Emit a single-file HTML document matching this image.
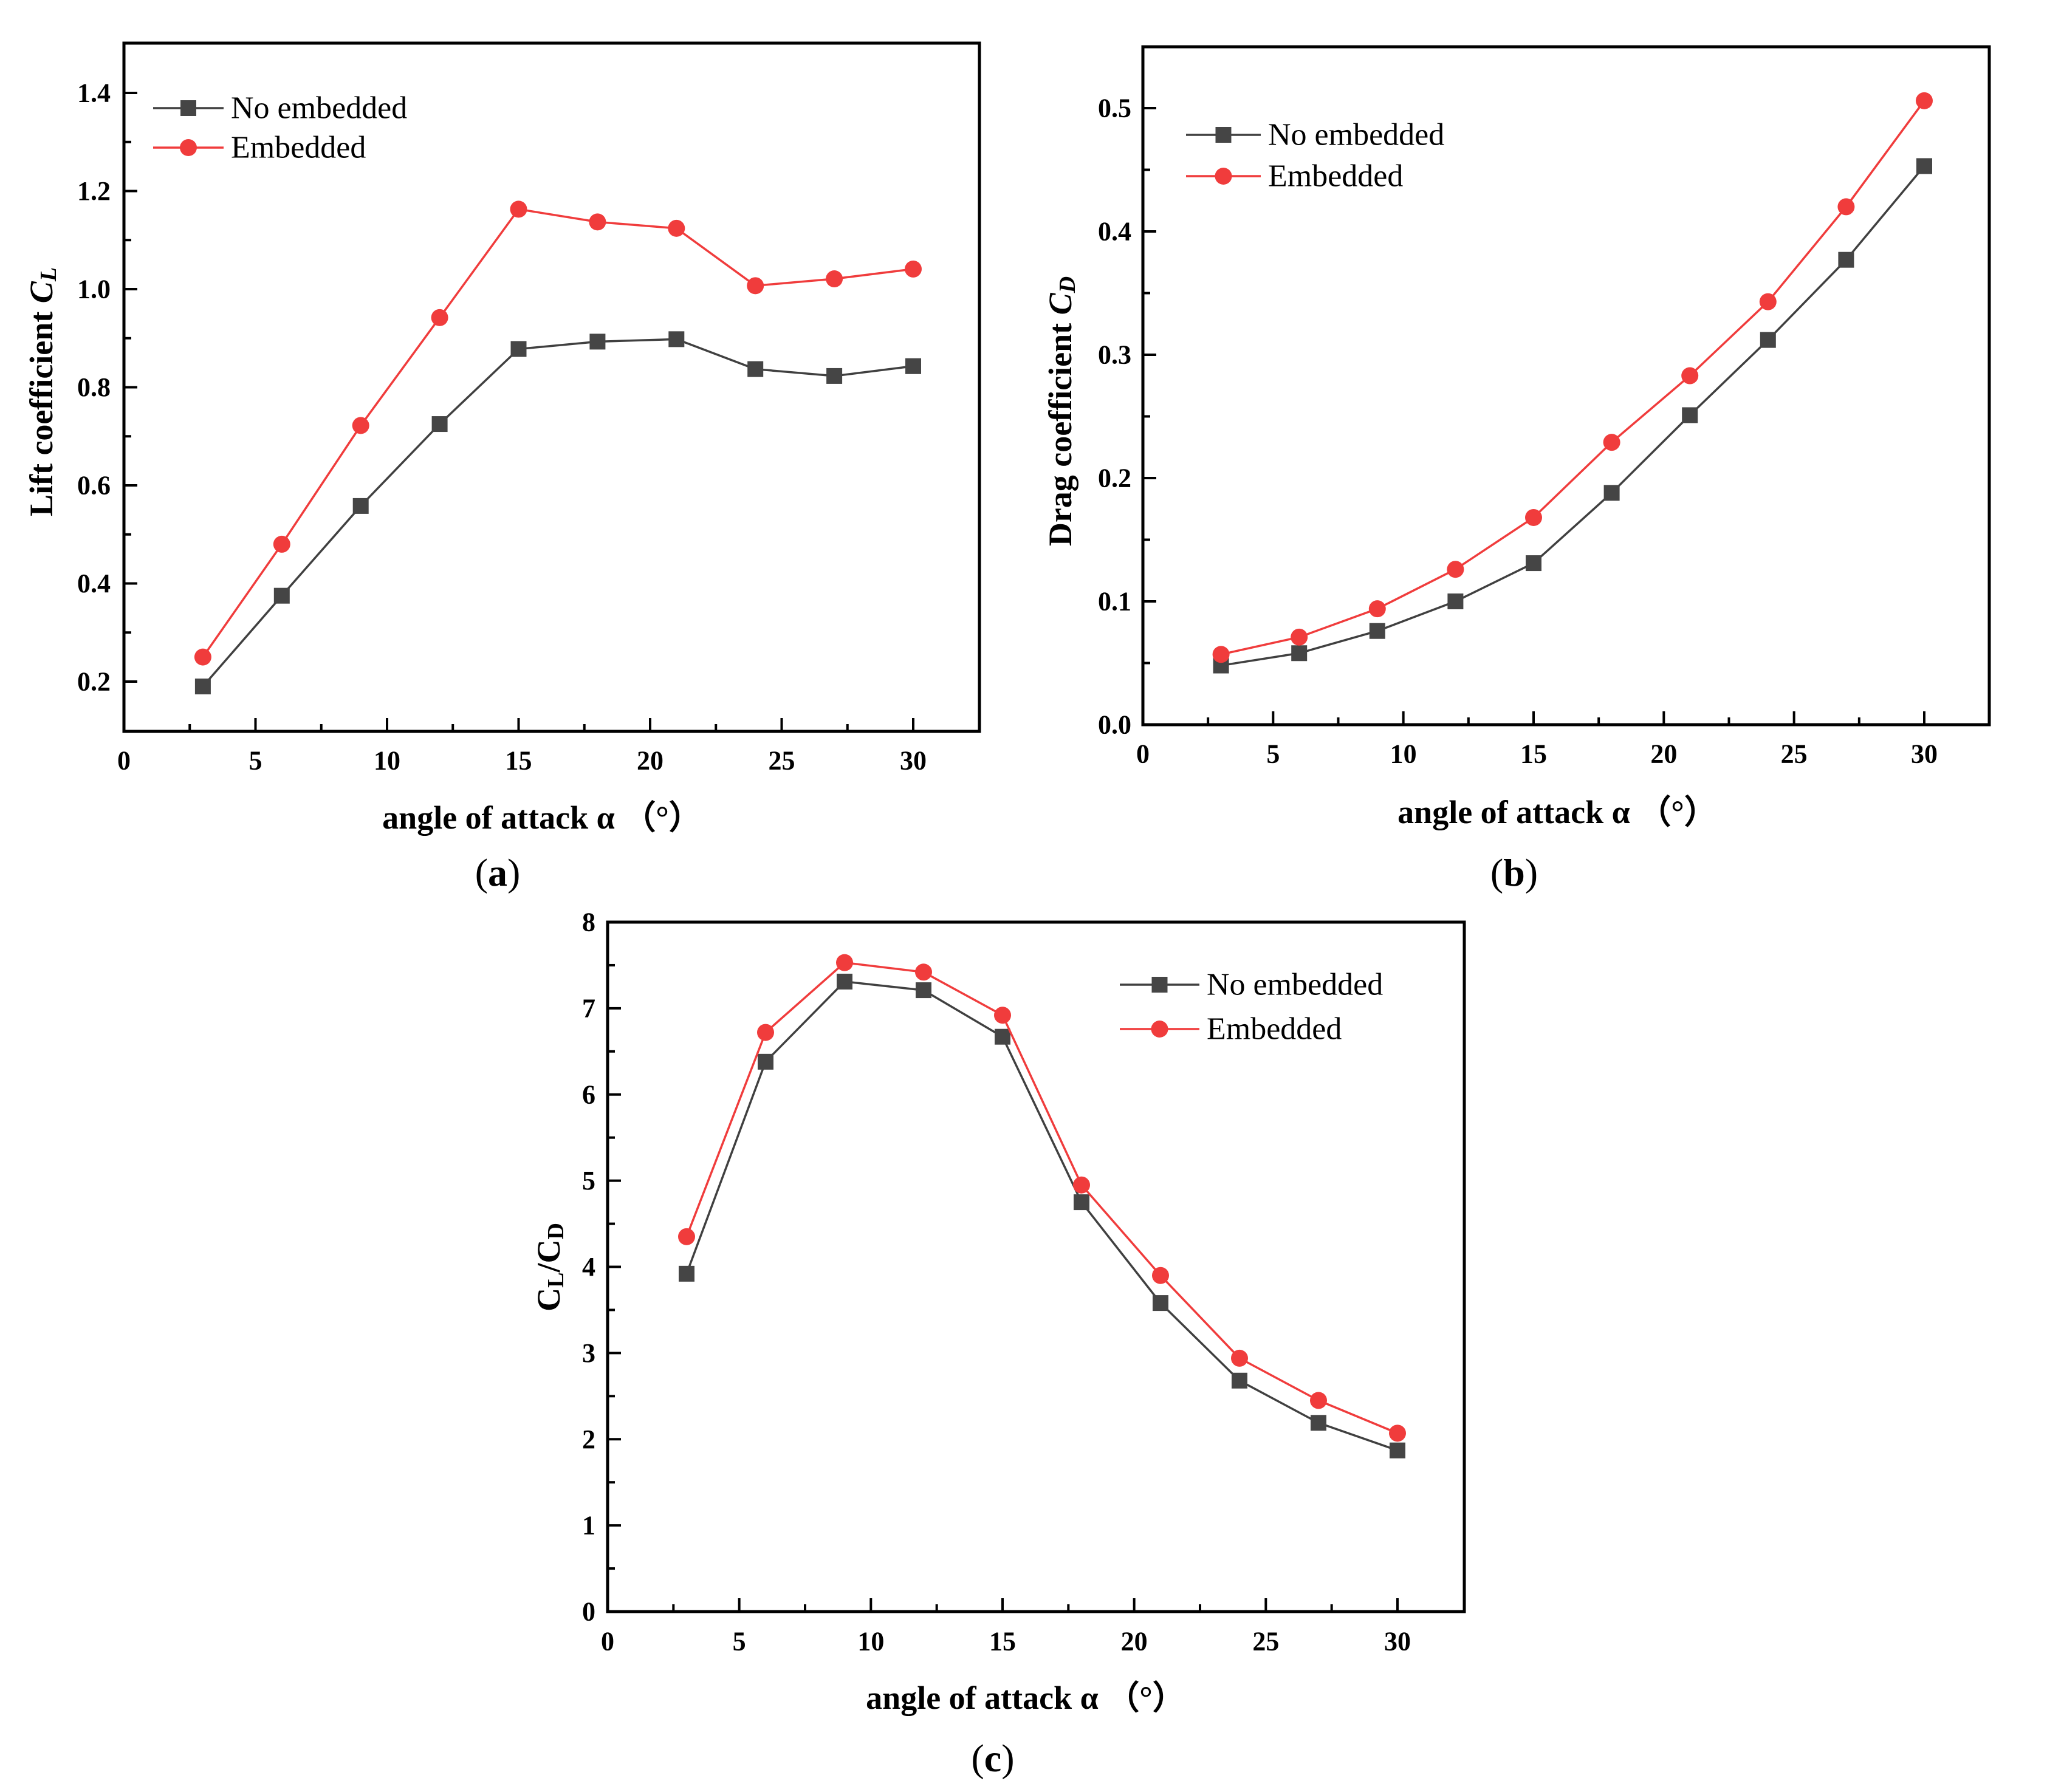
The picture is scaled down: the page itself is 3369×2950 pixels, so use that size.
<!DOCTYPE html>
<html><head><meta charset="utf-8">
<style>
html,body{margin:0;padding:0;background:#fff;}
svg{display:block;}
text{font-family:"Liberation Serif",serif;}
</style></head>
<body>
<svg id="fig" width="3369" height="2950" viewBox="0 0 3369 2950" xmlns="http://www.w3.org/2000/svg">
</svg>
<script>
const angles = [3, 6, 9, 12, 15, 18, 21, 24, 27, 30];
const liftNo = [0.19, 0.375, 0.558, 0.725, 0.878, 0.893, 0.898, 0.837, 0.823, 0.843];
const liftEmb = [0.25, 0.48, 0.722, 0.942, 1.163, 1.137, 1.124, 1.007, 1.021, 1.041];
const dragNo = [0.048, 0.058, 0.076, 0.100, 0.131, 0.188, 0.251, 0.312, 0.377, 0.453];
const dragEmb = [0.057, 0.071, 0.094, 0.126, 0.168, 0.229, 0.283, 0.343, 0.420, 0.506];
const ratioNo = [3.92, 6.38, 7.31, 7.21, 6.67, 4.75, 3.58, 2.68, 2.19, 1.87];
const ratioEmb = [4.35, 6.72, 7.53, 7.42, 6.92, 4.95, 3.90, 2.94, 2.45, 2.07];
const xTicks = [0, 5, 10, 15, 20, 25, 30];
const liftTicks = [0.2, 0.4, 0.6, 0.8, 1.0, 1.2, 1.4];
const liftTickLabels = ["0.2", "0.4", "0.6", "0.8", "1.0", "1.2", "1.4"];
const dragTicks = [0.0, 0.1, 0.2, 0.3, 0.4, 0.5];
const dragTickLabels = ["0.0", "0.1", "0.2", "0.3", "0.4", "0.5"];
const ratioTicks = [0, 1, 2, 3, 4, 5, 6, 7, 8];
const ratioTickLabels = ["0", "1", "2", "3", "4", "5", "6", "7", "8"];
const seriesNames = ["No embedded", "Embedded"];

const NS = "http://www.w3.org/2000/svg";
const svg = document.getElementById("fig");
function mk(tag, attrs, parent) {
  const e = document.createElementNS(NS, tag);
  for (const k in attrs) e.setAttribute(k, attrs[k]);
  (parent || svg).appendChild(e);
  return e;
}

function chart(cfg) {
  const g = mk("g", {});
  
  
  const L = cfg.left, T = cfg.top, R = cfg.right, B = cfg.bottom;
  const sx = v => cfg.x0px + (v - 0) * (cfg.x30px - cfg.x0px) / 30;
  const sy = v => cfg.yApx + (v - cfg.yA) * (cfg.yBpx - cfg.yApx) / (cfg.yB - cfg.yA);
  const xt = mk("g", {}, g);
  
  
  xTicks.forEach((v, i) => {
    const x = sx(v);
    if (v > 0) mk("line", {x1: x, y1: B, x2: x, y2: B - 22, stroke: "#000", "stroke-width": 4}, xt);
    if (i < xTicks.length - 1) {
      const xm = sx(v + 2.5);
      mk("line", {x1: xm, y1: B, x2: xm, y2: B - 12, stroke: "#000", "stroke-width": 4}, xt);
    }
    const t = mk("text", {x: x, y: cfg.xLabelY, "font-size": 44, "font-weight": "bold", "text-anchor": "middle", "dominant-baseline": "central"}, xt);
    t.textContent = String(v);
    
    
  });
  const yt = mk("g", {}, g);
  
  
  cfg.yTicks.forEach((v, i) => {
    const y = sy(v);
    mk("line", {x1: L, y1: y, x2: L + 22, y2: y, stroke: "#000", "stroke-width": 4}, yt);
    const step = cfg.yTicks[1] - cfg.yTicks[0];
    const ym = sy(v + step / 2);
    if (ym > T + 5) mk("line", {x1: L, y1: ym, x2: L + 12, y2: ym, stroke: "#000", "stroke-width": 4}, yt);
    if (i === 0) {
      const yb = sy(v - step / 2);
      if (yb < B - 5) mk("line", {x1: L, y1: yb, x2: L + 12, y2: yb, stroke: "#000", "stroke-width": 4}, yt);
    }
    const t = mk("text", {x: cfg.yLabelX, y: y, "font-size": 44, "font-weight": "bold", "text-anchor": "end", "dominant-baseline": "central"}, yt);
    t.textContent = cfg.yTickLabels[i];
    
    
  });
  const fr = mk("rect", {x: L, y: T, width: R - L, height: B - T, fill: "none", stroke: "#000", "stroke-width": 5}, g);
  
  
  const cols = ["#404040", "#f03c3c"];
  [cfg.s0, cfg.s1].forEach((data, si) => {
    const sg = mk("g", {}, g);
    
    
    const pts = data.map((v, i) => sx(angles[i]) + "," + sy(v)).join(" ");
    const pl = mk("polyline", {points: pts, fill: "none", stroke: cols[si], "stroke-width": 3.5}, sg);
    
    
    data.forEach((v, i) => {
      let m;
      if (si === 0) m = mk("rect", {x: sx(angles[i]) - 13, y: sy(v) - 13, width: 26, height: 26, fill: "#454545"}, sg);
      else m = mk("circle", {cx: sx(angles[i]), cy: sy(v), r: 14, fill: "#f03c3c"}, sg);
      
      
    });
  });
  const lg = mk("g", {}, g);
  
  
  seriesNames.forEach((nm, si) => {
    const y = cfg.legY[si];
    const eg = mk("g", {}, lg);
    
    
    mk("line", {x1: cfg.legX[0], y1: y, x2: cfg.legX[1], y2: y, stroke: cols[si], "stroke-width": 3.5}, eg);
    const mx = (cfg.legX[0] + cfg.legX[1]) / 2;
    if (si === 0) mk("rect", {x: mx - 13, y: y - 13, width: 26, height: 26, fill: "#454545"}, eg);
    else mk("circle", {cx: mx, cy: y, r: 14, fill: "#f03c3c"}, eg);
    const t = mk("text", {x: cfg.legX[1] + 12, y: y, "font-size": 52, "dominant-baseline": "central"}, eg);
    t.textContent = nm;
  });
  const xtl = mk("text", {x: cfg.xTitle[0], y: cfg.xTitle[1], "font-size": 54, "font-weight": "bold", "text-anchor": "middle", "dominant-baseline": "central"}, g);
  xtl.textContent = "angle of attack  α （°）";
  
  
  const ytl = mk("text", {x: 0, y: 0, "font-size": 54, "font-weight": "bold", "text-anchor": "middle", "dominant-baseline": "central", transform: "translate(" + cfg.yTitle[0] + "," + cfg.yTitle[1] + ") rotate(-90)"}, g);
  ytl.innerHTML = cfg.yTitleHTML;
  
  
  const pl = mk("text", {x: cfg.panel[0], y: cfg.panel[1], "font-size": 64, "text-anchor": "middle", "dominant-baseline": "central"}, g);
  pl.innerHTML = "(<tspan font-weight='bold'>" + cfg.panelLetter + "</tspan>)";
  
  
}

chart({name: "lift-chart", left: 204, top: 71, right: 1612, bottom: 1204, x0px: 204, x30px: 1503,
  yA: 0.2, yApx: 1122, yB: 1.4, yBpx: 153, yTicks: liftTicks, yTickLabels: liftTickLabels,
  s0: liftNo, s1: liftEmb, xLabelY: 1252, yLabelX: 182,
  legX: [252, 368], legY: [178, 243], xTitle: [892, 1346], yTitle: [68, 645],
  yTitleHTML: "Lift coefficient <tspan font-style='italic'>C</tspan><tspan font-style='italic' font-size='38' dy='12'>L</tspan>",
  panel: [819, 1436], panelLetter: "a"});

chart({name: "drag-chart", left: 1881, top: 77, right: 3274, bottom: 1193, x0px: 1881, x30px: 3167,
  yA: 0.0, yApx: 1193, yB: 0.5, yBpx: 178, yTicks: dragTicks, yTickLabels: dragTickLabels,
  s0: dragNo, s1: dragEmb, xLabelY: 1241, yLabelX: 1862,
  legX: [1952, 2075], legY: [222, 290], xTitle: [2563, 1337], yTitle: [1745, 677],
  yTitleHTML: "Drag coefficient <tspan font-style='italic'>C</tspan><tspan font-style='italic' font-size='38' dy='12'>D</tspan>",
  panel: [2492, 1436], panelLetter: "b"});

chart({name: "lift-drag-ratio-chart", left: 1000, top: 1518, right: 2410, bottom: 2653, x0px: 1000, x30px: 2300,
  yA: 0, yApx: 2653, yB: 8, yBpx: 1518, yTicks: ratioTicks, yTickLabels: ratioTickLabels,
  s0: ratioNo, s1: ratioEmb, xLabelY: 2702, yLabelX: 980,
  legX: [1843, 1974], legY: [1621, 1694], xTitle: [1688, 2795], yTitle: [903, 2086],
  yTitleHTML: "C<tspan font-size='38' dy='12'>L</tspan><tspan dy='-12'>/C</tspan><tspan font-size='38' dy='12'>D</tspan>",
  panel: [1634, 2894], panelLetter: "c"});
</script>
</body></html>
